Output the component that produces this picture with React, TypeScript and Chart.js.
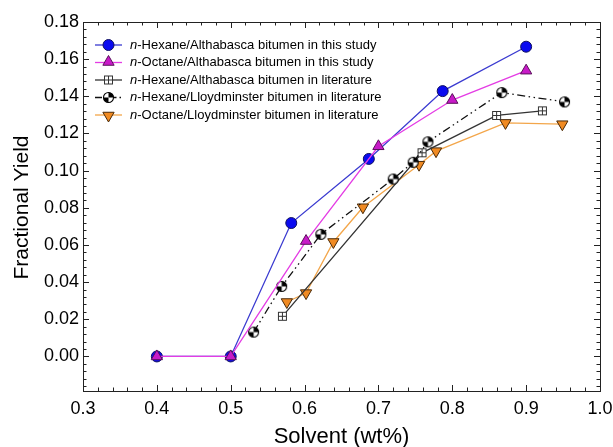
import React, { useEffect, useRef } from "react";
import { Chart, registerables } from "chart.js";

Chart.register(...registerables);

const seriesLabels = [
  "n-Hexane/Althabasca bitumen in this study",
  "n-Octane/Althabasca bitumen in this study",
  "n-Hexane/Althabasca bitumen in literature",
  "n-Hexane/Lloydminster bitumen in literature",
  "n-Octane/Lloydminster bitumen in literature",
];

const hexAthX = [0.4, 0.5, 0.582, 0.687, 0.787, 0.9];
const hexAthY = [0.0, 0.0, 0.0718, 0.1063, 0.1428, 0.1667];
const octAthX = [0.4, 0.5, 0.602, 0.7, 0.8, 0.9];
const octAthY = [0.0, 0.0, 0.0621, 0.1131, 0.138, 0.1538];
const hexAthLitX = [0.57, 0.759, 0.86, 0.922];
const hexAthLitY = [0.0216, 0.1096, 0.1297, 0.1322];
const hexLloX = [0.531, 0.569, 0.622, 0.72, 0.747, 0.767, 0.867, 0.952];
const hexLloY = [0.0131, 0.0377, 0.0657, 0.0955, 0.1045, 0.1155, 0.142, 0.137];
const octLloX = [0.576, 0.602, 0.639, 0.679, 0.755, 0.778, 0.872, 0.949];
const octLloY = [0.0293, 0.0341, 0.0616, 0.0803, 0.1032, 0.1105, 0.1257, 0.125];

const xTicks = [0.3, 0.4, 0.5, 0.6, 0.7, 0.8, 0.9, 1.0];
const yTicks = [0.0, 0.02, 0.04, 0.06, 0.08, 0.1, 0.12, 0.14, 0.16, 0.18];
const xTitle = "Solvent (wt%)";
const yTitle = "Fractional Yield";

const FONT = "'Liberation Sans', Arial, Helvetica, sans-serif";

function pts(xs: number[], ys: number[]) {
  return xs.map((x, i) => ({ x, y: ys[i] }));
}

function makeQuadCircle(): HTMLCanvasElement {
  const c = document.createElement("canvas");
  c.width = 13;
  c.height = 13;
  const g = c.getContext("2d")!;
  const cx = 6.5, cy = 6.5, r = 5;
  g.fillStyle = "#fff";
  g.beginPath();
  g.arc(cx, cy, r, 0, Math.PI * 2);
  g.fill();
  g.fillStyle = "#000";
  g.beginPath();
  g.moveTo(cx, cy);
  g.arc(cx, cy, r, -Math.PI / 2, 0);
  g.closePath();
  g.fill();
  g.beginPath();
  g.moveTo(cx, cy);
  g.arc(cx, cy, r, Math.PI / 2, Math.PI);
  g.closePath();
  g.fill();
  g.strokeStyle = "#000";
  g.lineWidth = 1.1;
  g.beginPath();
  g.arc(cx, cy, r, 0, Math.PI * 2);
  g.stroke();
  return c;
}

function makeCrossSquare(): HTMLCanvasElement {
  const c = document.createElement("canvas");
  c.width = 11;
  c.height = 11;
  const g = c.getContext("2d")!;
  g.fillStyle = "#fff";
  g.fillRect(1, 1, 9, 9);
  g.strokeStyle = "#333";
  g.lineWidth = 1;
  g.strokeRect(1.5, 1.5, 8, 8);
  g.beginPath();
  g.moveTo(5.5, 1.5);
  g.lineTo(5.5, 9.5);
  g.moveTo(1.5, 5.5);
  g.lineTo(9.5, 5.5);
  g.stroke();
  return c;
}

function drawTriangle(g: CanvasRenderingContext2D, x: number, y: number, r: number, down: boolean, fill: string, stroke: string) {
  const s = down ? -1 : 1;
  g.beginPath();
  g.moveTo(x, y - s * r);
  g.lineTo(x + r * 0.866, y + s * r * 0.5);
  g.lineTo(x - r * 0.866, y + s * r * 0.5);
  g.closePath();
  g.fillStyle = fill;
  g.fill();
  g.strokeStyle = stroke;
  g.lineWidth = 1;
  g.stroke();
}

export default function App() {
  const ref = useRef<HTMLCanvasElement | null>(null);

  useEffect(() => {
    document.body.style.margin = "0";
    const canvas = ref.current!;
    const quad = makeQuadCircle();
    const sq = makeCrossSquare();

    const colors = {
      blueLine: "#3a3ad0",
      blueFill: "#0a0af0",
      blueEdge: "#101060",
      magLine: "#e43ce4",
      magFill: "#c81ac8",
      magEdge: "#5a105a",
      orLine: "#f3a64a",
      orFill: "#f08a22",
      orEdge: "#4a2a08",
      sqLine: "#333333",
      lloLine: "#111111",
    };

    const framePlugin = {
      id: "framePlugin",
      afterDraw(chart: any) {
        const g: CanvasRenderingContext2D = chart.ctx;
        const { left, right, top, bottom } = chart.chartArea;
        const xs = chart.scales.x;
        const ys = chart.scales.y;
        g.save();
        g.strokeStyle = "#222";
        g.lineWidth = 1;
        const major = 6, minor = 3.5;
        g.beginPath();
        for (let i = 0; i <= 35; i++) {
          const v = 0.3 + i * 0.02;
          const px = Math.round(xs.getPixelForValue(v)) + 0.5;
          const len = i % 5 === 0 ? major : minor;
          g.moveTo(px, bottom);
          g.lineTo(px, bottom - len);
          g.moveTo(px, top);
          g.lineTo(px, top + len);
        }
        for (let i = -4; i <= 45; i++) {
          const v = i * 0.004;
          if (v < ys.min - 1e-9 || v > ys.max + 1e-9) continue;
          const py = Math.round(ys.getPixelForValue(v)) + 0.5;
          const len = i % 5 === 0 ? major : minor;
          g.moveTo(left, py);
          g.lineTo(left + len, py);
          g.moveTo(right, py);
          g.lineTo(right - len, py);
        }
        g.stroke();
        g.strokeRect(Math.round(left) + 0.5, Math.round(top) + 0.5, Math.round(right - left), Math.round(bottom - top));

        g.fillStyle = "#000";
        g.textAlign = "center";
        g.textBaseline = "middle";
        g.font = `22px ${FONT}`;
        g.fillText(xTitle, (left + right) / 2, 437);
        g.font = `21px ${FONT}`;
        g.save();
        g.translate(22, (top + bottom) / 2 + 1);
        g.rotate(-Math.PI / 2);
        g.fillText(yTitle, 0, 0);
        g.restore();

        const rowY = [45, 62.5, 80, 97.5, 115];
        const x0 = 95, x1 = 122, mx = 108.5, tx = 130;
        g.textAlign = "left";
        g.textBaseline = "middle";
        rowY.forEach((y, i) => {
          g.save();
          g.lineWidth = 1.3;
          if (i === 0) g.strokeStyle = colors.blueLine;
          if (i === 1) g.strokeStyle = colors.magLine;
          if (i === 2) g.strokeStyle = colors.sqLine;
          if (i === 3) {
            g.strokeStyle = colors.lloLine;
            g.setLineDash([7, 3, 1.5, 3]);
          }
          if (i === 4) g.strokeStyle = colors.orLine;
          g.beginPath();
          g.moveTo(x0, y);
          g.lineTo(x1, y);
          g.stroke();
          g.restore();
          if (i === 0) {
            g.beginPath();
            g.arc(mx, y, 5.5, 0, Math.PI * 2);
            g.fillStyle = colors.blueFill;
            g.fill();
            g.strokeStyle = colors.blueEdge;
            g.lineWidth = 1;
            g.stroke();
          } else if (i === 1) {
            drawTriangle(g, mx, y - 0.5, 6.5, false, colors.magFill, colors.magEdge);
          } else if (i === 2) {
            g.drawImage(sq, mx - sq.width / 2, y - sq.height / 2);
          } else if (i === 3) {
            g.drawImage(quad, mx - quad.width / 2, y - quad.height / 2);
          } else {
            drawTriangle(g, mx, y + 0.5, 6.5, true, colors.orFill, colors.orEdge);
          }
          const label = seriesLabels[i];
          g.fillStyle = "#000";
          g.font = `italic 13px ${FONT}`;
          g.fillText(label.slice(0, 1), tx, y);
          const w = g.measureText(label.slice(0, 1)).width;
          g.font = `13px ${FONT}`;
          g.fillText(label.slice(1), tx + w, y);
        });
        g.restore();
      },
    };

    const chart = new Chart(canvas, {
      type: "scatter",
      data: {
        datasets: [
          {
            label: seriesLabels[0],
            data: pts(hexAthX, hexAthY),
            showLine: true,
            borderColor: colors.blueLine,
            borderWidth: 1.3,
            pointStyle: "circle",
            pointRadius: 5.5,
            pointBackgroundColor: colors.blueFill,
            pointBorderColor: colors.blueEdge,
            pointBorderWidth: 1,
            order: 2,
          },
          {
            label: seriesLabels[1],
            data: pts(octAthX, octAthY),
            showLine: true,
            borderColor: colors.magLine,
            borderWidth: 1.3,
            pointStyle: "triangle",
            pointRadius: 6.5,
            pointBackgroundColor: colors.magFill,
            pointBorderColor: colors.magEdge,
            pointBorderWidth: 1,
            order: 1,
          },
          {
            label: seriesLabels[2],
            data: pts(hexAthLitX, hexAthLitY),
            showLine: true,
            borderColor: colors.sqLine,
            borderWidth: 1.3,
            pointStyle: sq,
            pointRadius: 5,
            order: 4,
          },
          {
            label: seriesLabels[3],
            data: pts(hexLloX, hexLloY),
            showLine: true,
            borderColor: colors.lloLine,
            borderWidth: 1.3,
            borderDash: [8, 3.5, 1.5, 3.5, 1.5, 3.5],
            pointStyle: quad,
            pointRadius: 5,
            order: 3,
          },
          {
            label: seriesLabels[4],
            data: pts(octLloX, octLloY),
            showLine: true,
            borderColor: colors.orLine,
            borderWidth: 1.3,
            pointStyle: "triangle",
            rotation: 180,
            pointRadius: 6.5,
            pointBackgroundColor: colors.orFill,
            pointBorderColor: colors.orEdge,
            pointBorderWidth: 1,
            order: 5,
          },
        ],
      },
      options: {
        animation: false,
        responsive: true,
        maintainAspectRatio: false,
        devicePixelRatio: 1,
        layout: { padding: { top: 22, right: 13, left: 0, bottom: 0 } },
        plugins: {
          legend: { display: false },
          tooltip: { enabled: false },
          title: { display: false },
        },
        scales: {
          x: {
            type: "linear",
            min: 0.3,
            max: 1.0,
            grid: { display: false, drawTicks: false },
            border: { display: false },
            afterBuildTicks: (s: any) => {
              s.ticks = xTicks.map((v) => ({ value: v }));
            },
            afterFit: (s: any) => {
              s.height = 56;
              s.paddingLeft = 0;
              s.paddingRight = 0;
              s.paddingTop = 0;
              s.paddingBottom = 0;
            },
            ticks: {
              padding: 7,
              color: "#000",
              font: { family: FONT, size: 18 },
              maxRotation: 0,
              autoSkip: false,
              callback: (v: any) => Number(v).toFixed(1),
            },
          },
          y: {
            type: "linear",
            min: -0.0186,
            max: 0.18,
            grid: { display: false, drawTicks: false },
            border: { display: false },
            afterBuildTicks: (s: any) => {
              s.ticks = yTicks.map((v) => ({ value: v }));
            },
            afterFit: (s: any) => {
              s.width = 83;
              s.paddingLeft = 0;
              s.paddingRight = 0;
              s.paddingTop = 0;
              s.paddingBottom = 0;
            },
            ticks: {
              padding: 4,
              color: "#000",
              font: { family: FONT, size: 18 },
              autoSkip: false,
              callback: (v: any) => Number(v).toFixed(2),
            },
          },
        },
      },
      plugins: [framePlugin],
    } as any);

    return () => chart.destroy();
  }, []);

  return (
    <div style={{ position: "relative", width: 613, height: 447 }}>
      <canvas ref={ref} />
    </div>
  );
}
